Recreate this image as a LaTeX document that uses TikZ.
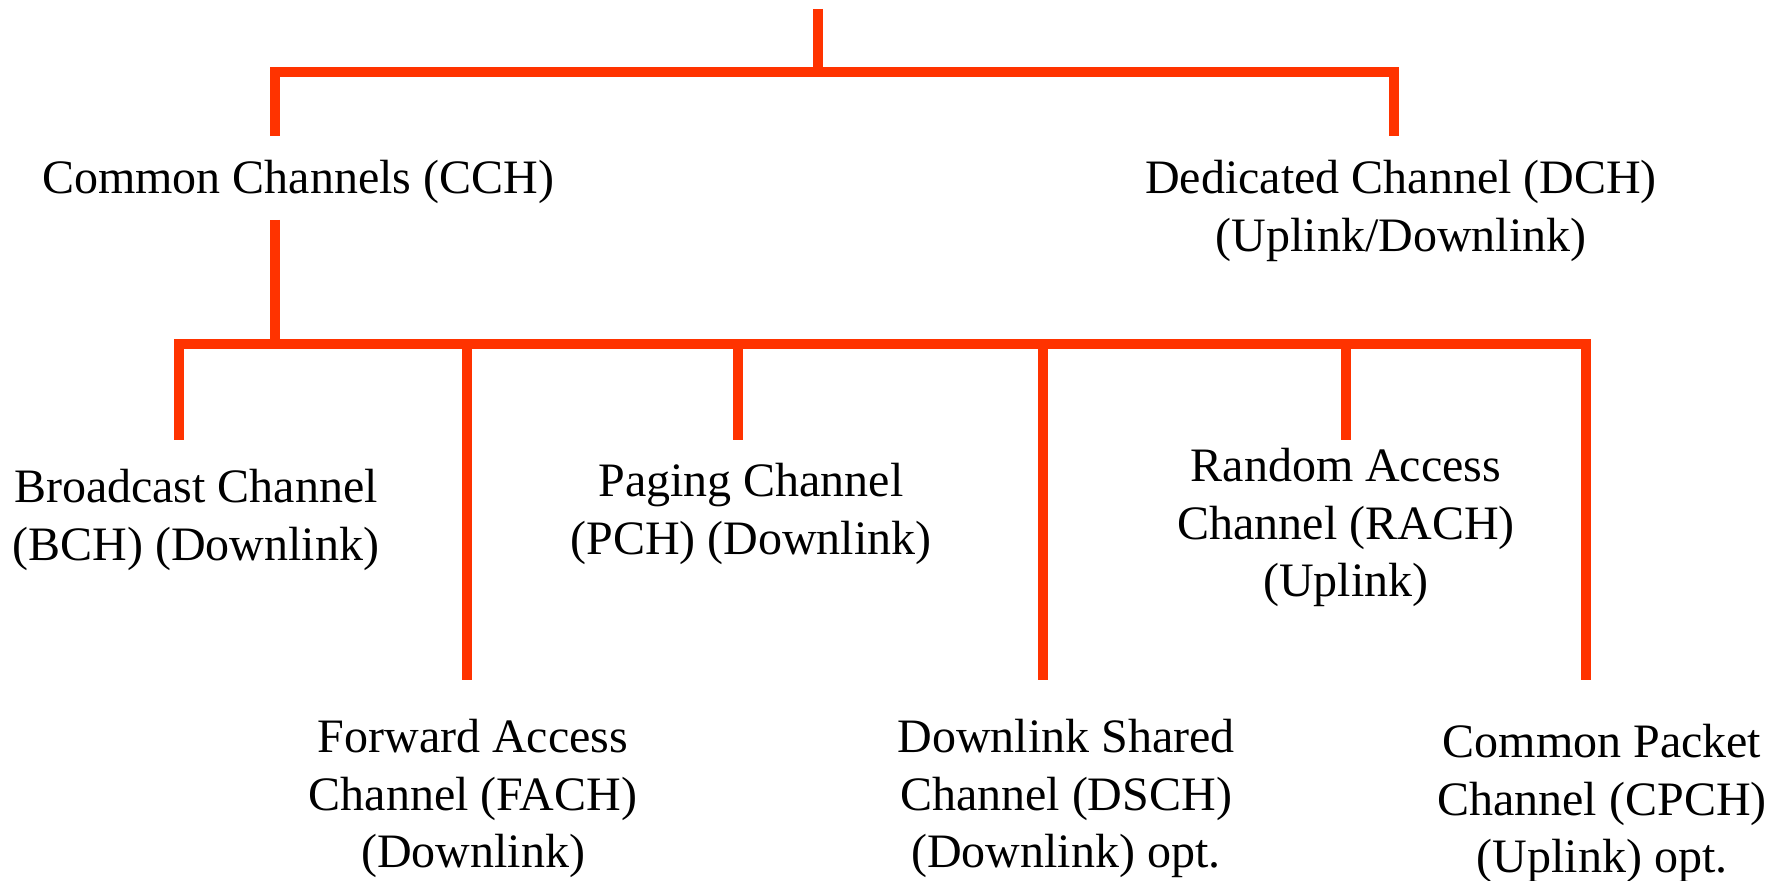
\documentclass[tikz,border=0pt]{standalone}
\usepackage{fontspec}
\setmainfont{Liberation Serif}
\usepackage{tikz}
\usetikzlibrary{positioning}
\definecolor{treered}{RGB}{255,51,0}

\begin{document}
\begin{tikzpicture}[
  x=0.5pt,y=-0.5pt,
  chan/.style={align=center,anchor=north,inner sep=0pt,
               font=\fontsize{24}{28.8}\selectfont},
  bar/.style={draw=treered,line width=5.25pt,line join=miter}
]
\useasboundingbox (0,0) rectangle (1785,881);

\node[chan] (cch) at (298,160) {Common Channels (CCH)};
\node[chan] (dch) at (1401,160) {Dedicated Channel (DCH)\\(Uplink/Downlink)};

\node[chan] (bch) at (196,469) {Broadcast Channel\\(BCH) (Downlink)};
\node[chan] (pch) at (751,463) {Paging Channel\\(PCH) (Downlink)};
\node[chan] (rach) at (1346,448) {Random Access\\Channel (RACH)\\(Uplink)};
\node[chan] (fach) at (473,719) {Forward Access\\Channel (FACH)\\(Downlink)};
\node[chan] (dsch) at (1066,719) {Downlink Shared\\Channel (DSCH)\\(Downlink) opt.};
\node[chan] (cpch) at (1602,724) {Common Packet\\Channel (CPCH)\\(Uplink) opt.};

\coordinate (root) at (818,9);
\coordinate (split) at (818,72);
\coordinate (ccol) at (275,72);
\coordinate (dcol) at (1394,72);
\coordinate (busl) at (179,344);
\coordinate (busr) at (1586,344);

\draw[bar] (root) -- (split);
\draw[bar,shorten <=12pt,shorten >=12pt] (cch.north -| ccol) -- (ccol) -- (dcol) -- (dch.north -| dcol);
\draw[bar,shorten <=7.75pt] (cch.south -| ccol) -- (ccol |- busl);
\draw[bar,shorten <=14.5pt,shorten >=22pt] (bch.north -| busl) -- (busl) -- (busr) -- (cpch.north -| busr);

\foreach \n/\x/\gap in {fach/467/19.5pt,pch/738/11.5pt,dsch/1043/19.5pt,rach/1346/4pt}
  \draw[bar,shorten >=\gap] (\x,344) -- (\n.north -| \x,344);
\end{tikzpicture}
\end{document}
